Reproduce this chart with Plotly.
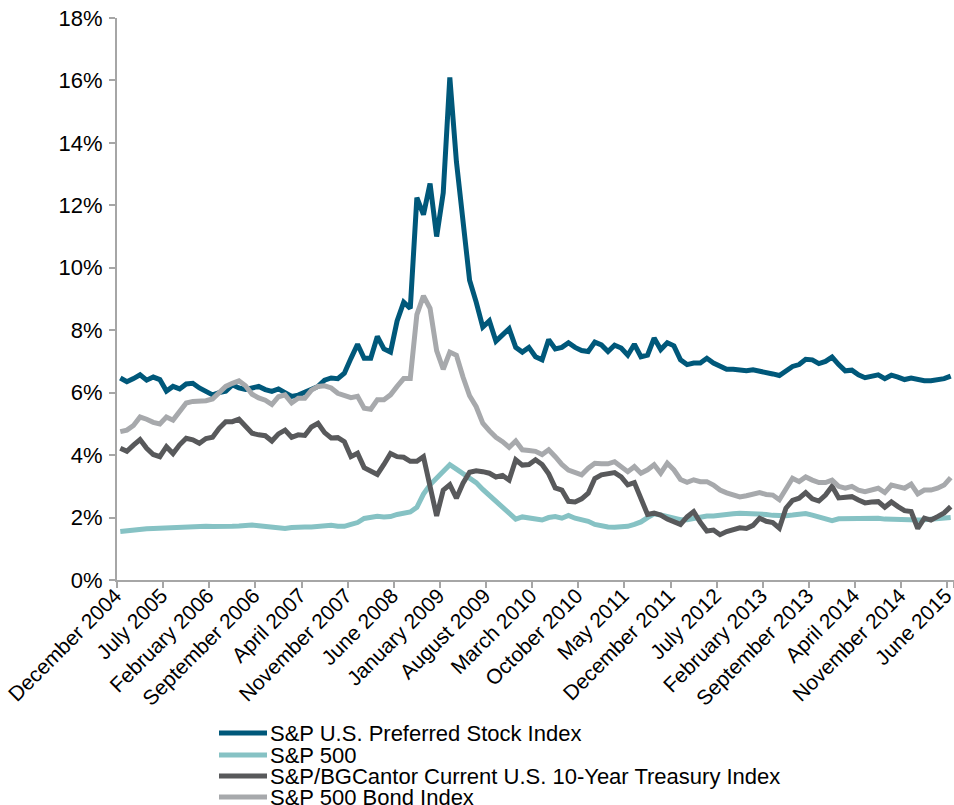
import pandas as pd
import plotly.graph_objects as go

# ---------------- data ----------------
months = [d.strftime("%B %Y") for d in pd.date_range("2004-12-01", "2015-06-01", freq="MS")]

tick_labels = ["December 2004", "July 2005", "February 2006", "September 2006", "April 2007",
               "November 2007", "June 2008", "January 2009", "August 2009", "March 2010",
               "October 2010", "May 2011", "December 2011", "July 2012", "February 2013",
               "September 2013", "April 2014", "November 2014", "June 2015"]

series_names = ["S&P U.S. Preferred Stock Index", "S&P 500",
                "S&P/BGCantor Current U.S. 10-Year Treasury Index", "S&P 500 Bond Index"]

preferred = [6.47, 6.35, 6.45, 6.57, 6.40, 6.50, 6.42, 6.05, 6.20, 6.12,
             6.28, 6.30, 6.15, 6.03, 5.93, 6.00, 6.05, 6.25, 6.15, 6.10,
             6.15, 6.20, 6.10, 6.04, 6.12, 6.00, 5.88, 5.92, 6.00, 6.10,
             6.20, 6.40, 6.47, 6.45, 6.62, 7.10, 7.55, 7.10, 7.10, 7.80,
             7.40, 7.30, 8.30, 8.90, 8.70, 12.25, 11.70, 12.70, 11.00, 12.40,
             16.10, 13.40, 11.50, 9.60, 8.90, 8.10, 8.30, 7.65, 7.85, 8.05,
             7.45, 7.30, 7.45, 7.15, 7.05, 7.70, 7.40, 7.45, 7.60, 7.45,
             7.35, 7.32, 7.62, 7.53, 7.32, 7.52, 7.43, 7.20, 7.55, 7.15,
             7.20, 7.75, 7.38, 7.60, 7.50, 7.05, 6.90, 6.95, 6.95, 7.10,
             6.95, 6.85, 6.75, 6.75, 6.72, 6.70, 6.73, 6.70, 6.65, 6.60,
             6.55, 6.68, 6.84, 6.90, 7.07, 7.05, 6.93, 7.00, 7.14, 6.90,
             6.70, 6.72, 6.57, 6.48, 6.54, 6.57, 6.45, 6.56, 6.50, 6.42,
             6.47, 6.41, 6.38, 6.38, 6.41, 6.45, 6.53]

sp500 = [1.55, 1.58, 1.60, 1.62, 1.64, 1.65, 1.66, 1.68, 1.70, 1.72,
         1.71, 1.73, 1.71, 1.72, 1.71, 1.70, 1.70, 1.72, 1.73, 1.75,
         1.76, 1.74, 1.72, 1.70, 1.67, 1.65, 1.68, 1.71, 1.70, 1.70,
         1.72, 1.76, 1.75, 1.72, 1.72, 1.78, 1.84, 1.97, 2.02, 2.04,
         2.02, 2.03, 2.10, 2.15, 2.18, 2.33, 2.75, 3.05, 3.25, 3.45,
         3.69, 3.55, 3.40, 3.25, 3.12, 2.90, 2.70, 2.50, 2.35, 2.15,
         1.95, 2.02, 1.98, 1.95, 1.92, 2.00, 2.03, 1.98, 2.07, 1.98,
         1.93, 1.88, 1.78, 1.73, 1.70, 1.69, 1.70, 1.72, 1.78, 1.86,
         2.00, 2.12, 2.08, 2.03, 1.98, 1.93, 1.93, 1.97, 2.02, 2.05,
         2.05, 2.06, 2.10, 2.12, 2.14, 2.14, 2.14, 2.12, 2.10, 2.07,
         2.05, 2.06, 2.08, 2.10, 2.13, 2.08, 2.02, 1.97, 1.90, 1.96,
         1.97, 1.94, 1.95, 1.96, 1.97, 1.98, 1.95, 1.94, 1.92, 1.93,
         1.92, 1.92, 1.93, 1.94, 1.96, 1.98, 2.00]

treasury = [4.22, 4.12, 4.32, 4.50, 4.22, 4.02, 3.95, 4.27, 4.05, 4.33,
            4.54, 4.49, 4.38, 4.53, 4.57, 4.86, 5.07, 5.07, 5.15, 4.95,
            4.70, 4.65, 4.62, 4.45, 4.68, 4.80, 4.57, 4.65, 4.63, 4.90,
            5.02, 4.72, 4.55, 4.56, 4.43, 3.95, 4.06, 3.60, 3.50, 3.38,
            3.70, 4.05, 3.95, 3.93, 3.80, 3.80, 3.95, 3.00, 2.05, 2.88,
            3.05, 2.62, 3.10, 3.45, 3.50, 3.47, 3.42, 3.30, 3.35, 3.20,
            3.85, 3.68, 3.70, 3.85, 3.70, 3.40, 2.95, 2.88, 2.52, 2.50,
            2.60, 2.78, 3.25, 3.37, 3.42, 3.44, 3.30, 3.05, 3.12, 2.60,
            2.10, 2.14, 2.08, 1.95, 1.85, 1.78, 2.02, 2.19, 1.85, 1.57,
            1.60, 1.45, 1.55, 1.62, 1.67, 1.65, 1.75, 1.98, 1.88, 1.84,
            1.66, 2.30, 2.55, 2.62, 2.80, 2.60, 2.53, 2.72, 3.00, 2.63,
            2.67, 2.67, 2.56, 2.47, 2.50, 2.51, 2.33, 2.50, 2.35, 2.22,
            2.19, 1.65, 1.98, 1.92, 2.03, 2.15, 2.35]

bond = [4.75, 4.80, 4.95, 5.22, 5.15, 5.05, 5.00, 5.22, 5.12, 5.42,
        5.67, 5.72, 5.72, 5.74, 5.80, 6.02, 6.20, 6.30, 6.38, 6.22,
        5.95, 5.83, 5.76, 5.62, 5.87, 5.93, 5.67, 5.82, 5.82, 6.08,
        6.20, 6.22, 6.15, 5.98, 5.90, 5.84, 5.88, 5.50, 5.47, 5.77,
        5.77, 5.93, 6.20, 6.45, 6.45, 8.50, 9.10, 8.70, 7.35, 6.75,
        7.30, 7.20, 6.50, 5.90, 5.55, 5.02, 4.78, 4.57, 4.43, 4.25,
        4.45, 4.17, 4.15, 4.12, 4.02, 4.17, 3.95, 3.70, 3.52, 3.43,
        3.37, 3.58, 3.74, 3.72, 3.72, 3.79, 3.63, 3.47, 3.63, 3.42,
        3.53, 3.69, 3.42, 3.74, 3.53, 3.22, 3.13, 3.21, 3.15, 3.15,
        3.04, 2.88, 2.79, 2.72, 2.66, 2.70, 2.73, 2.80, 2.74, 2.72,
        2.57, 2.90, 3.26, 3.15, 3.30, 3.20, 3.12, 3.12, 3.20, 3.00,
        2.94, 3.00, 2.88, 2.83, 2.88, 2.94, 2.80, 3.04, 2.99, 2.94,
        3.07, 2.76, 2.88, 2.88, 2.94, 3.04, 3.28]

y_ticks = [0, 2, 4, 6, 8, 10, 12, 14, 16, 18]

# ---------------- styling ----------------
colors = ["#00587A", "#86C2C4", "#58595B", "#A7A9AC"]
FONT = "Arial, Liberation Sans, sans-serif"
AXIS_GREY = "#A6A6A6"
FS = 22
FSX = 21

W, H = 954, 805
ML, MR, MT, MB = 117, 0, 18, 225

fig = go.Figure()
for name, vals, col in zip(series_names, [preferred, sp500, treasury, bond], colors):
    fig.add_trace(go.Scatter(x=months, y=vals, mode="lines", name=name,
                             line=dict(color=col, width=5, shape="linear"),
                             showlegend=False, cliponaxis=False))

# custom legend (Excel-like, long line samples, tight rows)
plot_w = W - ML - MR
plot_h = H - MT - MB
def px_x(px):
    return (px - ML) / plot_w
def px_y(py):
    return (H - MB - py) / plot_h

leg_rows = [733, 755, 776, 797]
for name, col, yy in zip(series_names, colors, leg_rows):
    fig.add_shape(type="line", xref="paper", yref="paper",
                  x0=px_x(219), x1=px_x(267), y0=px_y(yy), y1=px_y(yy),
                  line=dict(color=col, width=5))
    fig.add_annotation(xref="paper", yref="paper", x=px_x(268), y=px_y(yy),
                       text=name, showarrow=False, xanchor="left", yanchor="middle",
                       font=dict(family=FONT, size=FS, color="#000000"))

fig.update_layout(
    width=W, height=H,
    margin=dict(l=ML, r=MR, t=MT, b=MB, pad=0, autoexpand=False),
    paper_bgcolor="white", plot_bgcolor="white",
    font=dict(family=FONT, size=FS, color="#000000"),
    showlegend=False,
    xaxis=dict(type="category", range=[-0.5, len(months) - 0.5], automargin=False,
               tickmode="array", tickvals=tick_labels, ticktext=tick_labels,
               tickson="boundaries", ticklabelstandoff=-7, ticklabelshift=-5,
               tickangle=-45, showgrid=False, zeroline=False,
               showline=True, linecolor=AXIS_GREY, linewidth=2,
               ticks="outside", ticklen=6, tickwidth=2, tickcolor=AXIS_GREY,
               tickfont=dict(family=FONT, size=FSX, color="#000000")),
    yaxis=dict(range=[0, 18], tickmode="array", tickvals=y_ticks, automargin=False,
               ticktext=[f"{v}%" for v in y_ticks], ticklabelstandoff=2,
               showgrid=False, zeroline=False,
               showline=True, linecolor=AXIS_GREY, linewidth=2,
               ticks="outside", ticklen=6, tickwidth=2, tickcolor=AXIS_GREY,
               tickfont=dict(family=FONT, size=FS, color="#000000")),
)

fig.write_html("out.html", config={"displayModeBar": False},
               post_script="document.body.style.margin='0';document.body.style.overflow='hidden';")
